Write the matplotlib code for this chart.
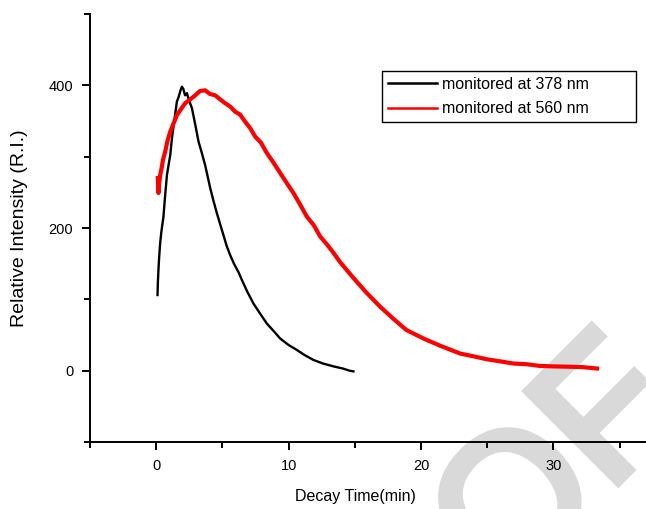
import numpy as np
import matplotlib
matplotlib.use('Agg')
import matplotlib.pyplot as plt
import matplotlib.patheffects as pe
from matplotlib.ticker import MultipleLocator

plt.rcParams['font.family'] = ['Liberation Sans', 'DejaVu Sans']

# monitored at 378 nm (time in min, intensity)
t_378 = [0.10, 0.13, 0.17, 0.22, 0.30, 0.40, 0.55, 0.65, 0.81, 0.95, 1.06, 1.19,
         1.35, 1.56, 1.70, 1.82, 1.94, 2.05, 2.18, 2.32, 2.50, 2.70, 2.95, 3.20,
         3.45, 3.70, 3.95, 4.08, 4.30, 4.58, 4.95, 5.34, 5.59, 5.90, 6.22, 6.50,
         6.90, 7.35, 7.85, 8.36, 8.85, 9.37, 10.0, 10.63, 11.2, 11.88, 12.6,
         13.4, 14.1, 14.6, 14.9]
v_378 = [106, 125, 141, 158, 179, 196, 216, 240, 274, 290, 302, 326,
         348, 377, 384, 392, 398, 395, 386, 389, 378, 368, 345, 321,
         305, 288, 267, 256, 240, 221, 198, 174, 162, 149, 138, 126,
         110, 94, 80, 66, 56, 45, 36, 29, 22, 15, 10,
         6, 3, 0, -1]

# monitored at 560 nm
t_560 = [0.12, 0.17, 0.22, 0.30, 0.40, 0.52, 0.68, 0.85, 1.06, 1.30, 1.56, 1.85,
         2.19, 2.55, 2.95, 3.30, 3.70, 4.05, 4.46, 4.85, 5.21, 5.60, 5.97, 6.34,
         6.72, 7.10, 7.48, 7.90, 8.36, 8.85, 9.37, 9.90, 10.37, 10.90, 11.38,
         11.90, 12.39, 12.90, 13.40, 13.90, 14.40, 14.90, 15.9, 16.9, 17.9, 18.9,
         20.2, 21.45, 22.96, 24.0, 24.97, 26.0, 27.0, 28.0, 29.0, 30.0, 31.0,
         32.2, 33.3]
v_560 = [270, 249, 262, 274, 283, 296, 307, 322, 335, 346, 358, 366,
         375, 380, 386, 392, 393, 388, 386, 380, 375, 370, 363, 359,
         349, 340, 328, 320, 305, 292, 277, 262, 249, 232, 216,
         204, 188, 177, 165, 152, 141, 130, 109, 90, 73, 57,
         45, 35, 24, 20, 16, 13, 10, 9, 6.6, 6, 5.6,
         5, 3]

fig = plt.figure(figsize=(6.46, 5.09), dpi=100)
ax = fig.add_axes([90 / 646, 1 - 442 / 509, 556 / 646, 428 / 509])
ax.patch.set_facecolor('none')

# watermark
fig.text(562 / 646, 1 - 470 / 509, 'OF', fontsize=135, color='#d9d9d9',
         rotation=45, rotation_mode='anchor', ha='center', va='center', zorder=-5,
         path_effects=[pe.withStroke(linewidth=6, foreground='#d9d9d9',
                                     joinstyle='miter', capstyle='butt')])

ax.plot(t_378, v_378, color='black', lw=1.7, label='monitored at 378 nm')
ax.plot(t_560, v_560, color='#ff0000', lw=3.0, label='monitored at 560 nm')

ax.set_xlim(-5, 37)
ax.set_ylim(-100, 500)
ax.xaxis.set_major_locator(MultipleLocator(10))
ax.xaxis.set_minor_locator(MultipleLocator(5))
ax.yaxis.set_major_locator(MultipleLocator(200))
ax.yaxis.set_minor_locator(MultipleLocator(100))

for s in ['top', 'right']:
    ax.spines[s].set_visible(False)
for s in ['left', 'bottom']:
    ax.spines[s].set_linewidth(1.4)

ax.tick_params(which='major', direction='out', length=6, width=1.4, labelsize=10.5, pad=6)
ax.tick_params(which='minor', direction='out', length=4, width=1.4)

ax.set_xlabel('Decay Time(min)', fontsize=11.5)
ax.xaxis.set_label_coords((355 - 90) / 556, -47 / 428)
ax.set_ylabel('Relative Intensity (R.I.)', fontsize=14)
ax.yaxis.set_label_coords(-62 / 556, 0.5)

x0 = (382 - 90) / 556
x1 = (636 - 90) / 556
ytop = (442 - 71) / 428
leg = ax.legend(loc='upper left', bbox_to_anchor=(x0, ytop - 0.2, x1 - x0, 0.2),
                mode='expand', borderaxespad=0, fontsize=11.5, fancybox=False,
                framealpha=1, handlelength=3.1, handletextpad=0.3,
                labelspacing=0.6, borderpad=0.35)
leg.get_frame().set_edgecolor('black')
leg.get_frame().set_linewidth(1.0)
for line in leg.get_lines():
    line.set_linewidth(1.8)

fig.savefig('out.png', dpi=100)
